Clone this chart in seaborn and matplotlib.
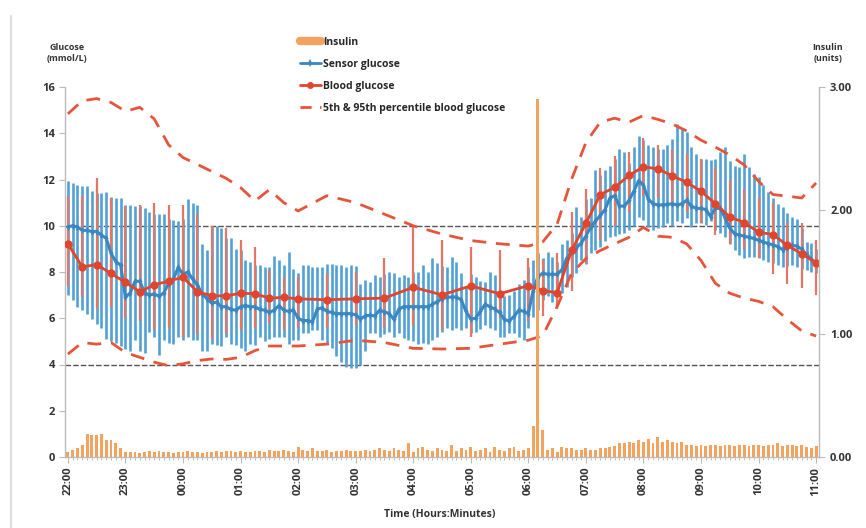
import numpy as np
import pandas as pd
import matplotlib
matplotlib.use("Agg")
import matplotlib.pyplot as plt
import seaborn as sns
from matplotlib.lines import Line2D

# ---------------- data ----------------
tick_labels = ["22:00", "23:00", "00:00", "01:00", "02:00", "03:00", "04:00",
               "05:00", "06:00", "07:00", "08:00", "09:00", "10:00", "11:00"]

# sensor glucose, every 5 minutes from 22:00 to 11:00 (157 readings)
sensor_mean = [
    9.95, 10.0, 9.95, 9.8, 9.8, 9.75, 9.75, 9.6, 9.45, 8.8, 8.45, 8.3,
    6.9, 7.1, 7.6, 7.6, 7.1, 7.0, 7.05, 6.95, 7.1, 7.5, 7.7, 8.2, 7.9, 8.0, 7.7, 7.45, 7.05, 6.85, 6.65, 6.7,
    6.5, 6.5, 6.38, 6.35, 6.5, 6.55, 6.5, 6.5, 6.38, 6.35, 6.25, 6.35, 6.55, 6.35, 6.3, 6.35, 6.0, 5.9, 5.9,
    5.85, 6.4, 6.45, 6.3, 6.25, 6.2, 6.2, 6.2, 6.2, 6.15, 5.97, 6.1,
    6.13, 6.1, 6.35, 6.28, 6.2, 5.95, 6.4, 6.5, 6.5, 6.5, 6.5, 6.5, 6.5, 6.6, 6.72, 6.85, 6.9, 6.92, 6.92,
    6.8, 6.3, 5.97, 6.0, 6.3, 6.6, 6.5, 6.4, 6.25, 5.95, 5.88, 6.08, 6.35, 6.3, 6.2,
    7.2, 7.8, 7.95, 7.9, 7.9, 7.9, 8.1, 8.6, 8.85, 9.05, 9.25, 9.55, 9.95, 10.2, 10.45, 10.7, 11.2, 11.3,
    10.85, 10.85, 11.1, 11.5, 11.95, 11.75, 11.15, 10.95, 10.9, 10.9, 10.92,
    10.95, 10.9, 10.95, 11.1, 10.85, 10.75, 10.75, 10.7, 10.4, 10.75, 10.75, 10.35, 9.9, 9.65, 9.6, 9.55,
    9.5, 9.45, 9.37, 9.3, 9.23, 9.17, 9.1, 8.97, 9.05, 9.15, 9.12, 8.98, 8.75, 8.55, 8.4]

sensor_high = [
    11.95, 11.85, 11.75, 11.7, 11.7, 11.5, 11.4, 11.4, 11.45, 11.25, 11.2, 11.2, 10.9, 10.9, 10.85, 10.85,
    10.75, 10.6, 10.5, 10.5, 10.5, 10.3, 10.25, 10.2, 10.3, 11.15, 11.0, 10.9,
    9.2, 8.95, 10.0, 10.0, 9.9, 9.45, 9.45, 9.0, 8.95, 8.5, 8.45, 8.3, 8.3, 8.2, 8.2, 8.7, 8.5, 8.3, 8.85,
    8.15, 7.95, 8.3, 8.3, 8.2, 8.2, 8.2, 8.35, 8.35, 8.3, 8.3, 8.2, 8.3, 8.25, 7.5, 7.65,
    7.55, 7.85, 7.8, 7.9, 8.0, 7.95, 7.8, 7.85, 7.8, 8.0, 8.0, 8.3, 8.0, 8.6, 8.4, 8.25, 8.2, 8.65, 8.45,
    7.95, 7.35, 7.9, 7.8, 7.6, 7.57, 8.0, 7.85, 7.2, 6.95, 7.0, 7.2, 7.5, 7.65, 8.2,
    8.5, 8.8, 8.6, 8.85, 8.65, 8.45, 9.2, 9.4, 9.7, 10.8, 10.4, 11.15, 11.2, 12.4, 12.2, 12.4, 12.6, 12.9,
    13.3, 13.2, 12.7, 13.4, 13.9, 13.7, 13.5, 13.4, 13.3, 13.3, 13.5,
    13.75, 14.4, 14.2, 14.05, 13.4, 13.1, 12.9, 12.9, 12.85, 12.9, 13.2, 13.4, 12.8, 12.6, 12.55, 13.1,
    12.55, 12.25, 12.1, 11.75, 11.45, 11.2, 10.95, 10.8, 10.55, 10.4, 10.3, 9.9, 9.3, 9.25, 9.0]

sensor_low = [
    7.0, 6.8, 6.5, 6.35, 6.2, 5.95, 5.75, 5.6, 5.1, 5.0, 4.95, 4.8, 4.65, 4.6, 5.05, 4.6, 4.5, 5.4, 5.2,
    4.4, 5.05, 4.95, 4.9, 5.2, 5.05, 5.2, 5.05, 5.05,
    4.6, 4.6, 4.9, 4.85, 4.8, 5.2, 4.9, 4.85, 4.7, 4.6, 4.9, 4.85, 5.2, 5.0, 5.1, 5.2, 5.2, 5.2, 4.9,
    5.05, 5.05, 5.35, 5.35, 5.5, 5.5, 5.05, 4.9, 4.7, 4.35, 4.1, 3.9, 3.85, 3.85, 4.0, 4.6,
    5.35, 5.35, 5.2, 5.3, 5.4, 5.2, 5.35, 5.15, 5.05, 5.0, 4.9, 4.95, 4.9, 5.05, 5.2, 5.4, 5.6, 5.5, 5.6,
    5.5, 5.6, 5.35, 5.4, 5.55, 5.7, 5.6, 5.5, 5.2, 5.2, 5.35, 5.35, 5.2, 5.05, 5.6,
    6.05, 6.35, 6.8, 6.95, 6.7, 7.2, 7.1, 7.35, 7.8, 7.95, 8.5, 8.35, 8.8, 8.95, 9.1, 9.35, 9.5, 9.55,
    9.65, 9.7, 9.8, 10.0, 10.4, 10.25, 9.95, 9.8, 9.9, 9.95, 10.1,
    10.0, 10.2, 10.1, 10.35, 9.95, 10.1, 10.1, 10.05, 10.2, 9.8, 9.7, 9.5, 9.2, 8.95, 8.75, 8.6,
    8.65, 8.65, 8.6, 8.5, 8.45, 8.4, 8.3, 8.2, 8.25, 8.3, 8.2, 8.15, 8.1, 8.0, 7.95]

# insulin (units), every 5 minutes
insulin = [
    0.04, 0.055, 0.07, 0.095, 0.19, 0.18, 0.18, 0.19, 0.14, 0.14, 0.11, 0.07, 0.04,
    0.04, 0.04, 0.03, 0.04, 0.05, 0.04, 0.05, 0.04, 0.04, 0.03, 0.04, 0.04, 0.05, 0.04, 0.04, 0.03, 0.04, 0.04,
    0.05, 0.04, 0.05, 0.05, 0.04, 0.05, 0.04, 0.04, 0.05, 0.05, 0.04, 0.06, 0.05, 0.05, 0.06, 0.05, 0.04,
    0.08, 0.06, 0.05, 0.07, 0.05, 0.05, 0.06, 0.04, 0.05, 0.05, 0.06, 0.05, 0.05,
    0.05, 0.06, 0.05, 0.06, 0.07, 0.06, 0.05, 0.07, 0.06, 0.05, 0.11, 0.04, 0.07, 0.08, 0.06, 0.05, 0.07,
    0.06, 0.05, 0.10, 0.05, 0.07, 0.06, 0.08, 0.05, 0.06, 0.07, 0.04, 0.08, 0.06, 0.05, 0.07, 0.08, 0.05,
    0.06, 0.07,
    0.25, 2.9, 0.22,
    0.06, 0.07, 0.04, 0.08, 0.07, 0.07, 0.06, 0.06, 0.07, 0.06,
    0.06, 0.07, 0.07, 0.08, 0.09, 0.11, 0.11, 0.12, 0.11, 0.14,
    0.12, 0.15, 0.11, 0.16, 0.12, 0.14, 0.12, 0.11, 0.12, 0.10,
    0.10, 0.09, 0.10, 0.09, 0.10, 0.10, 0.09, 0.10, 0.10, 0.09,
    0.10, 0.10, 0.09, 0.10, 0.10, 0.09, 0.10, 0.10, 0.11, 0.09,
    0.10, 0.10, 0.09, 0.10, 0.08, 0.07, 0.09]

# blood glucose
bg_times = ["22:00", "22:15", "22:30", "22:45", "23:00", "23:15", "23:30", "23:45",
            "00:00", "00:15", "00:30", "00:45", "01:00", "01:15", "01:30", "01:45", "02:00",
            "02:30", "03:00", "03:30", "04:00", "04:30", "05:00", "05:30",
            "06:00", "06:15", "06:30", "06:45", "07:00", "07:15", "07:30", "07:45",
            "08:00", "08:15", "08:30", "08:45", "09:00", "09:15", "09:30", "09:45",
            "10:00", "10:15", "10:30", "10:45", "11:00"]
bg_mean = [9.22, 8.22, 8.32, 7.94, 7.55, 7.15, 7.44, 7.61, 7.77, 7.15, 6.97, 6.97, 7.08, 7.06, 6.87,
           6.9, 6.84, 6.8, 6.84, 6.87, 7.34, 7.01, 7.4, 7.06, 7.41, 7.2, 7.1, 8.93, 10.1, 11.35,
           11.66, 12.18, 12.55, 12.46, 12.16, 11.88, 11.49, 10.95, 10.38, 10.14, 9.72, 9.62, 9.15,
           8.79, 8.39]
bg_low = [7.4, 6.9, 6.4, 6.5, 6.0, 5.9, 5.5, 5.6, 5.2, 5.3, 5.1, 5.3, 5.5, 5.6, 5.8, 5.5, 5.6,
          5.6, 5.7, 5.6, 5.7, 5.5, 5.2, 6.0, 5.9, 6.1, 6.4, 7.2, 8.4, 9.4, 10.0, 10.6, 11.3, 11.2,
          11.0, 10.6, 10.1, 9.6, 9.2, 9.0, 8.6, 7.9, 7.5, 7.3, 7.0]
bg_high = [11.3, 11.3, 12.05, 11.2, 10.85, 10.9, 11.0, 10.9, 10.9, 10.5, 10.0, 9.9, 9.4, 9.1, 8.1,
           7.8, 7.8, 7.9, 8.0, 8.6, 10.0, 9.4, 9.1, 8.95, 8.6, 8.5, 8.8, 10.6, 11.6, 12.5, 13.0,
           13.2, 13.8, 13.5, 13.3, 13.1, 12.9, 12.5, 12.0, 11.6, 11.2, 11.0, 10.1, 10.1, 9.4]
bg_p95 = [14.84, 15.4, 15.5, 15.33, 14.95, 15.12, 14.62, 13.5, 12.95, 12.65, 12.35, 12.05, 11.65,
          11.07, 11.56, 11.0, 10.64, 11.3, 11.0, 10.5, 10.0, 9.64, 9.36, 9.22, 9.12, 9.3, 10.07,
          12.0, 13.6, 14.48, 14.65, 14.48, 14.77, 14.6, 14.4, 14.1, 13.7, 13.4, 13.06, 12.63,
          11.92, 11.35, 11.28, 11.2, 11.85]
bg_p5 = [4.45, 4.95, 4.88, 4.95, 4.52, 4.31, 4.1, 3.95, 4.03, 4.17, 4.24, 4.22, 4.31, 4.6, 4.8,
         4.8, 4.8, 4.88, 5.05, 4.95, 4.7, 4.67, 4.7, 4.88, 5.05, 5.25, 6.5, 7.94, 8.58, 8.93,
         9.22, 9.5, 9.93, 9.55, 9.5, 9.22, 8.5, 7.51, 7.08, 6.87, 6.73, 6.5, 5.95, 5.45, 5.23]

target_upper = 10
target_lower = 4


def to_min(s):
    h, m = map(int, s.split(":"))
    return ((h - 22) % 24) * 60 + m


sensor_min = np.arange(len(sensor_mean)) * 5
bg_min = np.array([to_min(t) for t in bg_times])
tick_min = [to_min(t) for t in tick_labels]

sensor_df = pd.DataFrame({"t": sensor_min, "g": sensor_mean})
bg_df = pd.DataFrame({"t": bg_min, "g": bg_mean, "p5": bg_p5, "p95": bg_p95})

# ---------------- style ----------------
sns.set_theme(style="white")
plt.rcParams['font.family'] = ['Open Sans', 'DejaVu Sans']

BLUE = "#3A87C2"
BLUE_BAR = "#51A0D6"
RED = "#E2452B"
RED_BAR = "#E27766"
DASH = "#E6553A"
ORANGE = "#F4A35F"
GRAYTXT = "#333333"
SPINE = "#BBBBBB"

fig = plt.figure(figsize=(8.66, 5.28), dpi=100)
ax = fig.add_axes([65 / 866, 1 - 457 / 528, 754 / 866, 370 / 528])

for yv in (target_upper, target_lower):
    ax.axhline(yv, color="#555555", lw=1.0, ls=(0, (4, 1.5)), zorder=1)

ax.vlines(sensor_min, sensor_low, sensor_high, color=BLUE_BAR, lw=1.9, zorder=2)
ax.vlines(bg_min, bg_low, bg_high, color=RED_BAR, lw=1.6, zorder=3)

sns.lineplot(data=bg_df, x="t", y="p95", ax=ax, color=DASH, lw=2.0, errorbar=None,
             dashes=False, linestyle=(0, (5, 3.5)), zorder=4)
sns.lineplot(data=bg_df, x="t", y="p5", ax=ax, color=DASH, lw=2.0, errorbar=None,
             dashes=False, linestyle=(0, (5, 3.5)), zorder=4)
sns.lineplot(data=sensor_df, x="t", y="g", ax=ax, color=BLUE, lw=2.2, errorbar=None,
             marker="d", markersize=3.5, markeredgewidth=0, zorder=5)
sns.lineplot(data=bg_df, x="t", y="g", ax=ax, color=RED, lw=2.0, errorbar=None,
             marker="o", markersize=6, markeredgewidth=0, zorder=6)

ax.set_xlim(-3, 783)
ax.set_ylim(0, 16)
ax.set_xlabel("")
ax.set_ylabel("")
ax.set_yticks(range(0, 17, 2))
ax.set_yticklabels([str(v) for v in range(0, 17, 2)], fontsize=8, fontweight="bold", color=GRAYTXT)
ax.set_xticks(tick_min)
ax.set_xticklabels(tick_labels, rotation=90, fontsize=8, fontweight="bold", color=GRAYTXT)
ax.set_xticks(sensor_min, minor=True)
ax.tick_params(axis="y", which="major", length=4, width=0.8, color=SPINE, direction="out", left=True, pad=3)
ax.tick_params(axis="x", which="major", length=4, width=0.8, color=SPINE, direction="out", bottom=True, pad=3)
ax.tick_params(axis="x", which="minor", length=2.5, width=0.6, color=SPINE, direction="out", bottom=True)
for s in ("top", "right"):
    ax.spines[s].set_visible(False)
for s in ("left", "bottom"):
    ax.spines[s].set_color(SPINE)
    ax.spines[s].set_linewidth(1.0)
ax.grid(False)

ax2 = ax.twinx()
ax2.bar(sensor_min, insulin, width=3.0, color=ORANGE, linewidth=0, zorder=7)
ax2.set_ylim(0, 3)
ax2.set_yticks([0, 1, 2, 3])
ax2.set_yticklabels(["0.00", "1.00", "2.00", "3.00"], fontsize=8, fontweight="bold", color=GRAYTXT)
ax2.tick_params(axis="y", length=4, width=0.8, color=SPINE, direction="out", right=True, pad=4)
for s in ("top", "left", "bottom"):
    ax2.spines[s].set_visible(False)
ax2.spines["right"].set_color(SPINE)
ax2.spines["right"].set_linewidth(1.0)
ax2.grid(False)
ax2.set_xlim(-3, 783)

fig.text(67 / 866, 1 - 53 / 528, "Glucose\n(mmol/L)", ha="center", va="center",
         fontsize=6.5, fontweight="bold", color=GRAYTXT, linespacing=1.3)
fig.text(828 / 866, 1 - 53 / 528, "Insulin\n(units)", ha="center", va="center",
         fontsize=6.5, fontweight="bold", color=GRAYTXT, linespacing=1.3)
fig.text(440 / 866, 1 - 514 / 528, "Time (Hours:Minutes)", ha="center", va="center",
         fontsize=7.5, fontweight="bold", color=GRAYTXT)

handles = [
    Line2D([], [], color=ORANGE, lw=6),
    Line2D([], [], color=BLUE, lw=2, marker="d", markersize=4, markeredgewidth=0),
    Line2D([], [], color=RED, lw=2, marker="o", markersize=5, markeredgewidth=0),
    Line2D([], [], color=DASH, lw=2, linestyle=(0, (4, 3))),
]
labels = ["Insulin", "Sensor glucose", "Blood glucose", "5th & 95th percentile blood glucose"]
fig.legend(handles, labels, loc="upper left", bbox_to_anchor=(300 / 866, 1 - 37 / 528),
           frameon=False, prop={"size": 7.5, "weight": "bold"}, handlelength=2.0,
           handletextpad=0.2, labelspacing=1.05, borderaxespad=0, borderpad=0)

fig.add_artist(Line2D([11 / 866, 11 / 866], [0, 1 - 16 / 528], transform=fig.transFigure,
                      color="#DDDDDD", lw=1.5))

fig.savefig("out.png", dpi=100)
